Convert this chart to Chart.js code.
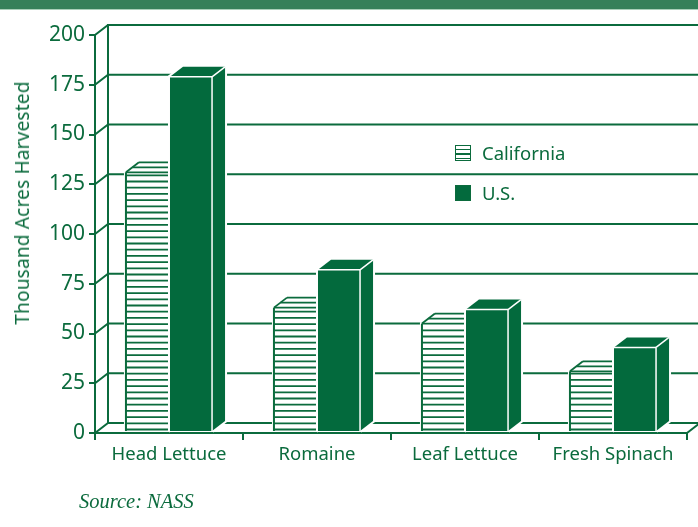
<!DOCTYPE html>
<html>
<head>
<meta charset="utf-8">
<script src="https://cdn.jsdelivr.net/npm/chart.js@4.4.0/dist/chart.umd.min.js"></script>
<style>
  html, body { margin: 0; padding: 0; background: #fff; }
  #wrap { position: relative; width: 698px; height: 527px; overflow: hidden; font-family: "Noto Sans", sans-serif; color: #0b6b3d; }
  #banner { position: absolute; left: 0; top: 0; width: 698px; height: 9px; background: #358059; border-bottom: 1px solid #a9cfb9; }
  canvas { position: absolute; left: 0; top: 0; }
  #ytitle { position: absolute; left: 22px; top: 203px; transform: translate(-50%, -50%) rotate(-90deg); white-space: nowrap; font-size: 19px; line-height: 20px; letter-spacing: 0.2px; }
  .leg { position: absolute; left: 455px; font-size: 18.5px; line-height: 20px; white-space: nowrap; }
  .leg .box { display: inline-block; width: 14px; height: 14px; vertical-align: -1px; margin-right: 11px; border: 1px solid #0b6b3d; }
  .box.ca { background: repeating-linear-gradient(to bottom, #fff 0 2.5px, #0b6b3d 2.5px 4px, #fff 4px 4.7px); }
  .box.us { background: #036a3d; }
  #source { position: absolute; left: 79px; top: 490px; font-family: "Liberation Serif", serif; font-style: italic; font-size: 20.5px; line-height: 22px; }
</style>
</head>
<body>
<div id="wrap">
  <div id="banner"></div>
  <canvas id="chart" width="698" height="527"></canvas>
  <div id="ytitle">Thousand Acres Harvested</div>
  <div class="leg" style="top:143px"><span class="box ca"></span>California</div>
  <div class="leg" style="top:183px"><span class="box us"></span>U.S.</div>
  <div id="source">Source: NASS</div>
</div>
<script>
// data
const categories = ['Head Lettuce', 'Romaine', 'Leaf Lettuce', 'Fresh Spinach'];
const california = [131, 63, 55, 31];
const us = [179, 82, 62, 43];
const yTicks = [0, 25, 50, 75, 100, 125, 150, 175, 200];

const green = '#0b6b3d';
const barGreen = '#036a3d';
const DX = 13, DY = 10;

function line(ctx, x1, y1, x2, y2) {
  ctx.beginPath();
  ctx.moveTo(x1, y1);
  ctx.lineTo(x2, y2);
  ctx.stroke();
}

function outline(ctx, l, t, r, b) {
  // white halo so the grid lines stop short of the bar
  ctx.beginPath();
  ctx.moveTo(l, b);
  ctx.lineTo(l, t);
  ctx.lineTo(l + DX, t - DY);
  ctx.lineTo(r + DX, t - DY);
  ctx.lineTo(r + DX, b - DY);
  ctx.lineTo(r, b);
  ctx.strokeStyle = '#fff';
  ctx.lineWidth = 4;
  ctx.stroke();
}

function drawHatched(ctx, l, t, r, b) {
  ctx.beginPath();
  ctx.moveTo(l, b); ctx.lineTo(l, t); ctx.lineTo(l + DX, t - DY);
  ctx.lineTo(r + DX, t - DY); ctx.lineTo(r + DX, b - DY); ctx.lineTo(r, b);
  ctx.closePath();
  ctx.fillStyle = '#fff';
  ctx.fill();
  ctx.strokeStyle = green;
  ctx.lineWidth = 1.8;
  for (let yy = b - 1.5; yy > t + 2; yy -= 6.2) line(ctx, l, yy, r, yy);
  // top face
  line(ctx, l, t, r, t);
  line(ctx, l + DX * 0.5, t - DY * 0.5, r + DX * 0.5, t - DY * 0.5);
  line(ctx, l + DX, t - DY, r + DX * 0.6, t - DY);
  line(ctx, l, t, l + DX, t - DY);
  ctx.lineWidth = 2;
  line(ctx, l, t, l, b);
}

function drawSolid(ctx, l, t, r, b) {
  ctx.fillStyle = barGreen;
  ctx.fillRect(l, t, r - l, b - t);
  ctx.beginPath();
  ctx.moveTo(l, t); ctx.lineTo(l + DX, t - DY); ctx.lineTo(r + DX, t - DY); ctx.lineTo(r, t);
  ctx.closePath();
  ctx.fill();
  ctx.beginPath();
  ctx.moveTo(r, t); ctx.lineTo(r + DX, t - DY); ctx.lineTo(r + DX, b - DY); ctx.lineTo(r, b);
  ctx.closePath();
  ctx.fill();
  ctx.strokeStyle = '#fff';
  ctx.lineWidth = 1.5;
  line(ctx, l, t, r, t);
  line(ctx, r, t, r, b);
  line(ctx, r, t, r + DX, t - DY);
}

const depthPlugin = {
  id: 'depth',
  beforeDatasetsDraw(chart) {
    const ctx = chart.ctx;
    const ys = chart.scales.y;
    const area = chart.chartArea;
    const p0 = ys.getPixelForValue(0);
    ctx.save();
    ctx.strokeStyle = green;
    ctx.lineWidth = 2;
    line(ctx, area.left + DX, p0 - DY, area.left + DX, ys.getPixelForValue(200) - DY - 1);
    yTicks.forEach(v => {
      const py = ys.getPixelForValue(v);
      ctx.beginPath();
      ctx.moveTo(area.left, py);
      ctx.lineTo(area.left + DX, py - DY);
      ctx.lineTo(chart.width, py - DY);
      ctx.stroke();
    });
    line(ctx, area.right, p0, area.right + DX, p0 - DY);

    const metaCA = chart.getDatasetMeta(0).data;
    const metaUS = chart.getDatasetMeta(1).data;
    categories.forEach((c, j) => {
      [[metaCA[j], drawHatched], [metaUS[j], drawSolid]].forEach(([bar, fn]) => {
        const p = bar.getProps(['x', 'y', 'base', 'width'], true);
        const l = p.x - p.width / 2, r = p.x + p.width / 2;
        const b = p.base - 1;
        outline(ctx, l, p.y, r, b);
        fn(ctx, l, p.y, r, b);
      });
    });
    ctx.restore();
    return false;
  }
};

new Chart(document.getElementById('chart'), {
  type: 'bar',
  data: {
    labels: categories,
    datasets: [
      { label: 'California', data: california, backgroundColor: '#fff' },
      { label: 'U.S.', data: us, backgroundColor: barGreen }
    ]
  },
  options: {
    responsive: false,
    animation: false,
    layout: { padding: { top: 35, right: 11, left: 0, bottom: 0 } },
    plugins: { legend: { display: false }, tooltip: { enabled: false } },
    datasets: { bar: { categoryPercentage: 0.595, barPercentage: 0.955 } },
    scales: {
      x: {
        grid: { drawOnChartArea: false, tickLength: 7, color: green, lineWidth: 2, offset: true },
        border: { color: green, width: 2 },
        ticks: { color: green, font: { family: 'Noto Sans', size: 18.5 }, padding: 4 },
        afterFit: s => { s.height = 94; }
      },
      y: {
        min: 0,
        max: 200,
        afterBuildTicks: s => { s.ticks = yTicks.map(v => ({ value: v })); },
        grid: { drawOnChartArea: false, tickLength: 6, color: green, lineWidth: 2 },
        border: { color: green, width: 2 },
        ticks: { color: green, font: { family: 'Noto Sans', size: 21 }, padding: 4 },
        afterFit: s => { s.width = 95; }
      }
    }
  },
  plugins: [depthPlugin]
});
</script>
</body>
</html>
